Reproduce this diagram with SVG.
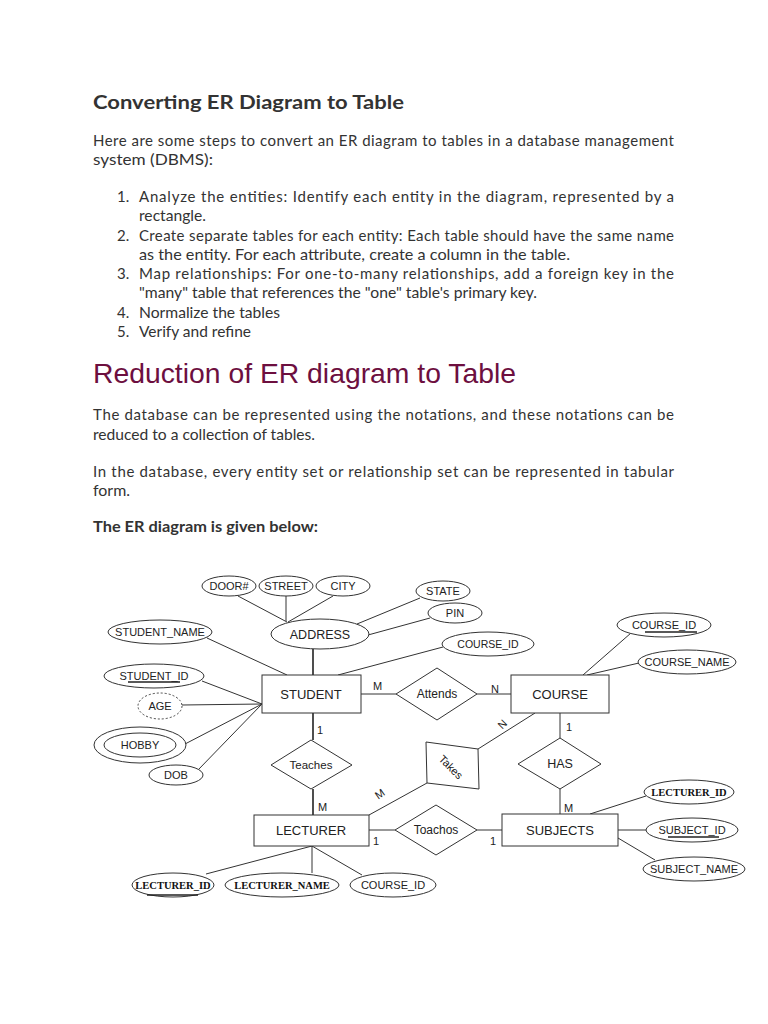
<svg xmlns="http://www.w3.org/2000/svg" width="768" height="1024" viewBox="0 0 768 1024">
<style>
.body{font-family:Lato,"Open Sans","Noto Sans",sans-serif;font-size:15px;fill:#333}
.h1{font-family:Lato,"Open Sans",sans-serif;font-size:19.5px;font-weight:bold;fill:#333}
.h2{font-family:"Liberation Sans",Arial,sans-serif;font-size:28px;fill:#6d0f3f}
.bold{font-weight:bold}
.ln{stroke:#333;stroke-width:1;fill:none}
.thk{stroke:#222;stroke-width:1.6;fill:none}
.shp{stroke:#333;stroke-width:1;fill:#fff}
.at{font-family:"Liberation Sans",Arial,sans-serif;font-size:11px;fill:#222;text-anchor:middle}
.ent{font-family:"Liberation Sans",Arial,sans-serif;font-size:13px;fill:#222;text-anchor:middle}
.rel{font-family:"Liberation Sans",Arial,sans-serif;font-size:12px;fill:#222;text-anchor:middle}
.sb{font-family:"Liberation Serif","Times New Roman",serif;font-size:10.5px;font-weight:bold;fill:#111;text-anchor:middle}
.card{font-family:"Liberation Sans",Arial,sans-serif;font-size:11px;fill:#222}
</style>
<rect width="768" height="1024" fill="#fff"/>

<g id="text">
<text class="h1" x="93" y="109" textLength="311" lengthAdjust="spacingAndGlyphs">Converting ER Diagram to Table</text>
<text class="body" x="93" y="146" textLength="581" lengthAdjust="spacing">Here are some steps to convert an ER diagram to tables in a database management</text>
<text class="body" x="93" y="165" textLength="120" lengthAdjust="spacingAndGlyphs">system (DBMS):</text>
<text class="body" x="117" y="202">1.</text>
<text class="body" x="139" y="202" textLength="535" lengthAdjust="spacing">Analyze the entities: Identify each entity in the diagram, represented by a</text>
<text class="body" x="139" y="221" textLength="67" lengthAdjust="spacingAndGlyphs">rectangle.</text>
<text class="body" x="117" y="241">2.</text>
<text class="body" x="139" y="241" textLength="535" lengthAdjust="spacing">Create separate tables for each entity: Each table should have the same name</text>
<text class="body" x="139" y="260" textLength="431" lengthAdjust="spacingAndGlyphs">as the entity. For each attribute, create a column in the table.</text>
<text class="body" x="117" y="279">3.</text>
<text class="body" x="139" y="279" textLength="535" lengthAdjust="spacing">Map relationships: For one-to-many relationships, add a foreign key in the</text>
<text class="body" x="139" y="298" textLength="398" lengthAdjust="spacingAndGlyphs">"many" table that references the "one" table's primary key.</text>
<text class="body" x="117" y="318">4.</text>
<text class="body" x="139" y="318" textLength="141" lengthAdjust="spacingAndGlyphs">Normalize the tables</text>
<text class="body" x="117" y="337">5.</text>
<text class="body" x="139" y="337" textLength="112" lengthAdjust="spacingAndGlyphs">Verify and refine</text>
<text class="h2" x="93" y="383" textLength="423" lengthAdjust="spacingAndGlyphs">Reduction of ER diagram to Table</text>
<text class="body" x="93" y="420" textLength="581" lengthAdjust="spacing">The database can be represented using the notations, and these notations can be</text>
<text class="body" x="93" y="440" textLength="222" lengthAdjust="spacingAndGlyphs">reduced to a collection of tables.</text>
<text class="body" x="93" y="477" textLength="581" lengthAdjust="spacing">In the database, every entity set or relationship set can be represented in tabular</text>
<text class="body" x="93" y="496" textLength="37" lengthAdjust="spacingAndGlyphs">form.</text>
<text class="body bold" x="93" y="532" textLength="225" lengthAdjust="spacingAndGlyphs">The ER diagram is given below:</text>
</g>

<g id="connectors">
<line class="thk" x1="313" y1="649" x2="313" y2="675"/>
<line class="ln" x1="238" y1="596" x2="287" y2="622"/>
<line class="ln" x1="286" y1="596" x2="286" y2="621"/>
<line class="ln" x1="333" y1="596" x2="288" y2="622"/>
<line class="ln" x1="420" y1="598" x2="357" y2="624"/>
<line class="ln" x1="430" y1="618" x2="368" y2="635"/>
<line class="ln" x1="443" y1="647" x2="338" y2="675"/>
<line class="ln" x1="207" y1="638" x2="287" y2="675"/>
<line class="ln" x1="202" y1="681" x2="262" y2="704"/>
<line class="ln" x1="182" y1="705" x2="262" y2="704"/>
<line class="ln" x1="185" y1="744" x2="262" y2="704"/>
<line class="ln" x1="198" y1="770" x2="262" y2="704"/>
<line class="ln" x1="361" y1="694" x2="396" y2="694"/>
<line class="ln" x1="477" y1="694" x2="511" y2="694"/>
<line class="thk" x1="313" y1="713" x2="313" y2="740"/>
<line class="thk" x1="313" y1="789" x2="313" y2="815"/>
<line class="ln" x1="535" y1="713" x2="478" y2="749"/>
<line class="ln" x1="427" y1="783" x2="369" y2="815"/>
<line class="ln" x1="560" y1="713" x2="560" y2="738"/>
<line class="ln" x1="560" y1="789" x2="560" y2="814"/>
<line class="ln" x1="369" y1="830" x2="395" y2="830"/>
<line class="ln" x1="477" y1="830" x2="502" y2="830"/>
<line class="ln" x1="631" y1="633" x2="583" y2="675"/>
<line class="ln" x1="639" y1="663" x2="587" y2="675"/>
<line class="ln" x1="312" y1="846" x2="206" y2="874"/>
<line class="ln" x1="312" y1="846" x2="312" y2="873"/>
<line class="ln" x1="312" y1="846" x2="362" y2="875"/>
<line class="ln" x1="646" y1="796" x2="590" y2="814"/>
<line class="ln" x1="646" y1="830" x2="618" y2="830"/>
<line class="ln" x1="655" y1="860" x2="618" y2="838"/>
<text class="card" x="373" y="690">M</text>
<text class="card" x="491" y="693">N</text>
<text class="card" x="317" y="734">1</text>
<text class="card" x="318" y="811">M</text>
<text class="card" x="566" y="731">1</text>
<text class="card" x="564" y="812">M</text>
<text class="card" x="373" y="845">1</text>
<text class="card" x="490" y="845">1</text>
<text class="card" transform="translate(505,727) rotate(-45)" text-anchor="middle">N</text>
<text class="card" transform="translate(382,797) rotate(-35)" text-anchor="middle">M</text>
</g>

<g id="address-attrs">
<ellipse class="shp" cx="229" cy="586" rx="27" ry="10"/><text class="at" x="229" y="590">DOOR#</text>
<ellipse class="shp" cx="286" cy="586" rx="27" ry="10"/><text class="at" x="286" y="590">STREET</text>
<ellipse class="shp" cx="343" cy="586" rx="27" ry="10"/><text class="at" x="343" y="590">CITY</text>
<ellipse class="shp" cx="443" cy="591" rx="27" ry="10"/><text class="at" x="443" y="595">STATE</text>
<ellipse class="shp" cx="455" cy="613" rx="27" ry="10"/><text class="at" x="455" y="617">PIN</text>
</g>
<g id="address"><ellipse class="shp" cx="320" cy="634" rx="49" ry="15"/><text class="ent" x="320" y="639" style="font-size:12.5px">ADDRESS</text></g>
<g id="student-course-id"><ellipse class="shp" cx="488" cy="644" rx="46" ry="12"/><text class="at" x="488" y="648" style="font-size:10.5px">COURSE_ID</text></g>
<g id="student-name"><ellipse class="shp" cx="160" cy="632" rx="52" ry="12"/><text class="at" x="160" y="636">STUDENT_NAME</text></g>
<g id="student-id"><ellipse class="shp" cx="154" cy="676" rx="50" ry="12"/><text class="at" x="154" y="680">STUDENT_ID</text><line class="thk" x1="128" y1="682" x2="180" y2="682"/></g>
<g id="age"><ellipse cx="160" cy="706" rx="22" ry="13" fill="#fff" stroke="#444" stroke-width="1" stroke-dasharray="2,2"/><text class="at" x="160" y="710">AGE</text></g>
<g id="hobby"><ellipse class="shp" cx="140" cy="745" rx="46" ry="18"/><ellipse class="shp" cx="140" cy="745" rx="36" ry="12"/><text class="at" x="140" y="749">HOBBY</text></g>
<g id="dob"><ellipse class="shp" cx="176" cy="775" rx="27" ry="10"/><text class="at" x="176" y="779">DOB</text></g>

<g id="student"><rect class="shp" x="262" y="675" width="99" height="38"/><text class="ent" x="311" y="699">STUDENT</text></g>
<g id="course"><rect class="shp" x="511" y="675" width="98" height="38"/><text class="ent" x="560" y="699">COURSE</text></g>
<g id="attends"><polygon class="shp" points="437,668 477,694 437,720 396,694"/><text class="rel" x="437" y="698">Attends</text></g>
<g id="course-id"><ellipse class="shp" cx="664" cy="625" rx="47" ry="12"/><text class="at" x="664" y="629">COURSE_ID</text><line class="thk" x1="645" y1="632" x2="697" y2="632"/></g>
<g id="course-name"><ellipse class="shp" cx="687" cy="662" rx="49" ry="12"/><text class="at" x="687" y="666">COURSE_NAME</text></g>

<g id="teaches"><polygon class="shp" points="311,740 352,765 311,789 271,765"/><text class="rel" x="311" y="769" style="font-size:11.5px">Teaches</text></g>
<g id="takes"><polygon class="shp" points="426,742 478,749 479,789 427,783"/><text class="rel" transform="translate(451,767) rotate(45)" y="4" style="font-size:11px">Takes</text></g>
<g id="has"><polygon class="shp" points="560,738 601,764 560,789 518,764"/><text class="rel" x="560" y="768" style="font-size:12.5px">HAS</text></g>

<g id="lecturer"><rect class="shp" x="254" y="815" width="115" height="31"/><text class="ent" x="311" y="835">LECTURER</text></g>
<g id="toachos"><polygon class="shp" points="436,805 477,830 436,855 395,830"/><text class="rel" x="436" y="834">Toachos</text></g>
<g id="subjects"><rect class="shp" x="502" y="814" width="116" height="32"/><text class="ent" x="560" y="835">SUBJECTS</text></g>

<g id="lecturer-id"><ellipse class="shp" cx="173" cy="885" rx="41" ry="12"/><text class="sb" x="173" y="889">LECTURER_ID</text><line class="thk" x1="147" y1="895" x2="198" y2="895"/></g>
<g id="lecturer-name"><ellipse class="shp" cx="282" cy="885" rx="57" ry="12"/><text class="sb" x="282" y="889">LECTURER_NAME</text></g>
<g id="lecturer-course-id"><ellipse class="shp" cx="393" cy="885" rx="43" ry="12"/><text class="at" x="393" y="889">COURSE_ID</text></g>
<g id="subj-lecturer-id"><ellipse class="shp" cx="689" cy="792" rx="45" ry="12"/><text class="sb" x="689" y="796">LECTURER_ID</text></g>
<g id="subject-id"><ellipse class="shp" cx="692" cy="830" rx="46" ry="12"/><text class="at" x="692" y="834">SUBJECT_ID</text><line class="thk" x1="668" y1="837" x2="719" y2="837"/></g>
<g id="subject-name"><ellipse class="shp" cx="694" cy="869" rx="51" ry="12"/><text class="at" x="694" y="873">SUBJECT_NAME</text></g>
</svg>
